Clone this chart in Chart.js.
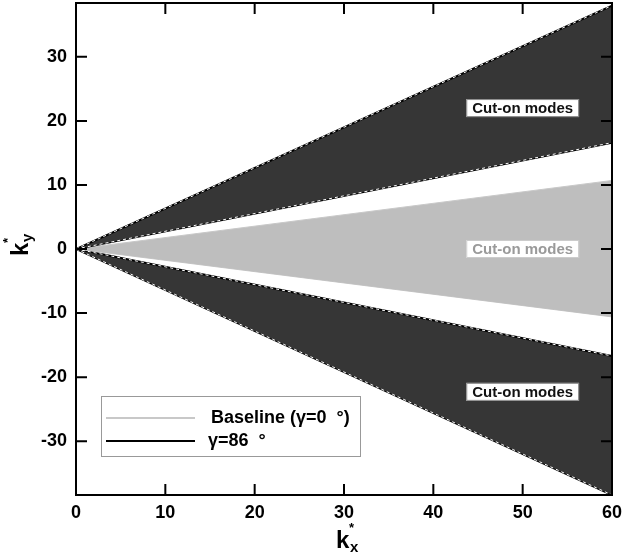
<!DOCTYPE html>
<html>
<head>
<meta charset="utf-8">
<script src="https://cdn.jsdelivr.net/npm/chart.js@4"></script>
<style>
  html, body { margin: 0; padding: 0; background: #fff; }
  #wrap { width: 629px; height: 556px; }
</style>
</head>
<body>
<div id="wrap"><canvas id="modeChart" width="629" height="556"></canvas></div>
<script>
// kx* range and the wedge edges (ky* at each kx*)
const kx = [0, 60];
const gammaUpperOuter = [0, 38];
const gammaUpperInner = [0, 16.6];
const baseUpper = [0, 10.7];
const baseLower = [0, -10.6];
const gammaLowerInner = [0, -16.7];
const gammaLowerOuter = [0, -38.4];

const xTicks = [0, 10, 20, 30, 40, 50, 60];
const yTicks = [-30, -20, -10, 0, 10, 20, 30];

// "Cut-on modes" labels: [kx, ky, dark text?]
const cutOnLabels = [
  [50, 22, true],
  [50, 0, false],
  [50, -22.3, true]
];
const legendItems = ['Baseline (\u03b3=0  \u00b0)', '\u03b3=86  \u00b0'];

const darkFill = '#363636';
const greyFill = '#bebebe';
const font = '"Liberation Sans", Arial, sans-serif';

function pts(ys) {
  return kx.map((x, i) => ({x: x, y: ys[i]}));
}

function edge(ys, fill, bg) {
  return {
    data: pts(ys), showLine: true, pointRadius: 0,
    borderColor: '#000', borderWidth: 2,
    backgroundColor: bg || 'transparent', fill: fill
  };
}
function dashes(ys) {
  return {
    data: pts(ys), showLine: true, pointRadius: 0,
    borderColor: '#fff', borderWidth: 1, borderDash: [3, 3], fill: false
  };
}

// draws frame, inward ticks, labels, legend and axis titles
const overlay = {
  id: 'overlay',
  afterDraw(chart) {
    const ctx = chart.ctx;
    const a = chart.chartArea;
    const xs = chart.scales.x, ys = chart.scales.y;
    ctx.save();

    // cut-on labels
    ctx.font = 'bold 15px ' + font;
    ctx.textAlign = 'center';
    ctx.textBaseline = 'middle';
    cutOnLabels.forEach(([lx, ly, dark]) => {
      const px = xs.getPixelForValue(lx), py = ys.getPixelForValue(ly);
      const w = ctx.measureText('Cut-on modes').width + 12;
      ctx.fillStyle = '#fff';
      ctx.fillRect(px - w / 2, py - 9, w, 18);
      ctx.strokeStyle = dark ? '#888' : '#ccc';
      ctx.lineWidth = 1;
      ctx.strokeRect(px - w / 2 + 0.5, py - 8.5, w - 1, 17);
      ctx.fillStyle = dark ? '#111' : '#9a9a9a';
      ctx.fillText('Cut-on modes', px, py + 1);
    });

    // inward ticks on all four sides
    ctx.strokeStyle = '#000';
    ctx.lineWidth = 2;
    ctx.beginPath();
    xTicks.forEach(v => {
      const p = xs.getPixelForValue(v);
      ctx.moveTo(p, a.bottom); ctx.lineTo(p, a.bottom - 11);
      ctx.moveTo(p, a.top); ctx.lineTo(p, a.top + 11);
    });
    yTicks.forEach(v => {
      const p = ys.getPixelForValue(v);
      ctx.moveTo(a.left, p); ctx.lineTo(a.left + 11, p);
      ctx.moveTo(a.right, p); ctx.lineTo(a.right - 11, p);
    });
    ctx.stroke();
    ctx.strokeRect(a.left, a.top, a.right - a.left, a.bottom - a.top);

    // legend box
    const lx = a.left + 25, ly = 396, lw = 259, lh = 60;
    ctx.fillStyle = '#fff';
    ctx.fillRect(lx, ly, lw, lh);
    ctx.strokeStyle = '#999';
    ctx.lineWidth = 1;
    ctx.strokeRect(lx + 0.5, ly + 0.5, lw, lh);
    ctx.lineWidth = 2;
    ctx.strokeStyle = '#c8c8c8';
    ctx.beginPath(); ctx.moveTo(lx + 5, 418); ctx.lineTo(lx + 94, 418); ctx.stroke();
    ctx.strokeStyle = '#000';
    ctx.beginPath(); ctx.moveTo(lx + 5, 441); ctx.lineTo(lx + 94, 441); ctx.stroke();
    ctx.fillStyle = '#000';
    ctx.font = 'bold 18px ' + font;
    ctx.textAlign = 'left';
    ctx.fillText(legendItems[0], lx + 110, 418);
    ctx.fillText(legendItems[1], lx + 107, 441);

    // axis titles k*_x and k*_y
    ctx.font = 'bold 24px ' + font;
    ctx.textBaseline = 'alphabetic';
    ctx.fillText('k', 336, 548);
    ctx.font = 'bold 13px ' + font;
    ctx.fillText('*', 349, 532);
    ctx.font = 'bold 15px ' + font;
    ctx.fillText('x', 350, 552);

    ctx.translate(28, 256);
    ctx.rotate(-Math.PI / 2);
    ctx.font = 'bold 24px ' + font;
    ctx.fillText('k', 0, 0);
    ctx.font = 'bold 13px ' + font;
    ctx.fillText('*', 13, -16);
    ctx.font = 'bold 15px ' + font;
    ctx.fillText('y', 14, 4);
    ctx.restore();
  }
};

function noPad(s) {
  s.paddingTop = 0; s.paddingBottom = 0;
  s.paddingLeft = 0; s.paddingRight = 0;
}

const modeChart = new Chart(document.getElementById('modeChart'), {
  type: 'scatter',
  data: {
    datasets: [
      dashes(gammaUpperOuter),
      dashes(gammaUpperInner),
      dashes(gammaLowerInner),
      dashes(gammaLowerOuter),
      edge(gammaUpperOuter, '+1', darkFill),
      edge(gammaUpperInner, false),
      {data: pts(baseUpper), showLine: true, pointRadius: 0, borderColor: '#c8c8c8',
       borderWidth: 1, backgroundColor: greyFill, fill: '+1'},
      {data: pts(baseLower), showLine: true, pointRadius: 0, borderColor: '#c8c8c8',
       borderWidth: 1, fill: false},
      edge(gammaLowerInner, '+1', darkFill),
      edge(gammaLowerOuter, false)
    ]
  },
  options: {
    responsive: false,
    animation: false,
    layout: {padding: {top: 3, right: 17, left: 0, bottom: 0}},
    plugins: {legend: {display: false}, tooltip: {enabled: false}},
    scales: {
      x: {
        type: 'linear', min: 0, max: 60,
        afterFit: s => { s.height = 61; noPad(s); },
        grid: {display: false, drawTicks: false},
        border: {display: false},
        ticks: {stepSize: 10, padding: 7, color: '#000',
                font: {family: font, size: 18, weight: 'bold'}}
      },
      y: {
        type: 'linear', min: -38.4, max: 38.4,
        afterFit: s => { s.width = 76; noPad(s); },
        grid: {display: false, drawTicks: false},
        border: {display: false},
        ticks: {stepSize: 10, includeBounds: false, padding: 9, color: '#000',
                font: {family: font, size: 18, weight: 'bold'}}
      }
    }
  },
  plugins: [overlay]
});
</script>
</body>
</html>
